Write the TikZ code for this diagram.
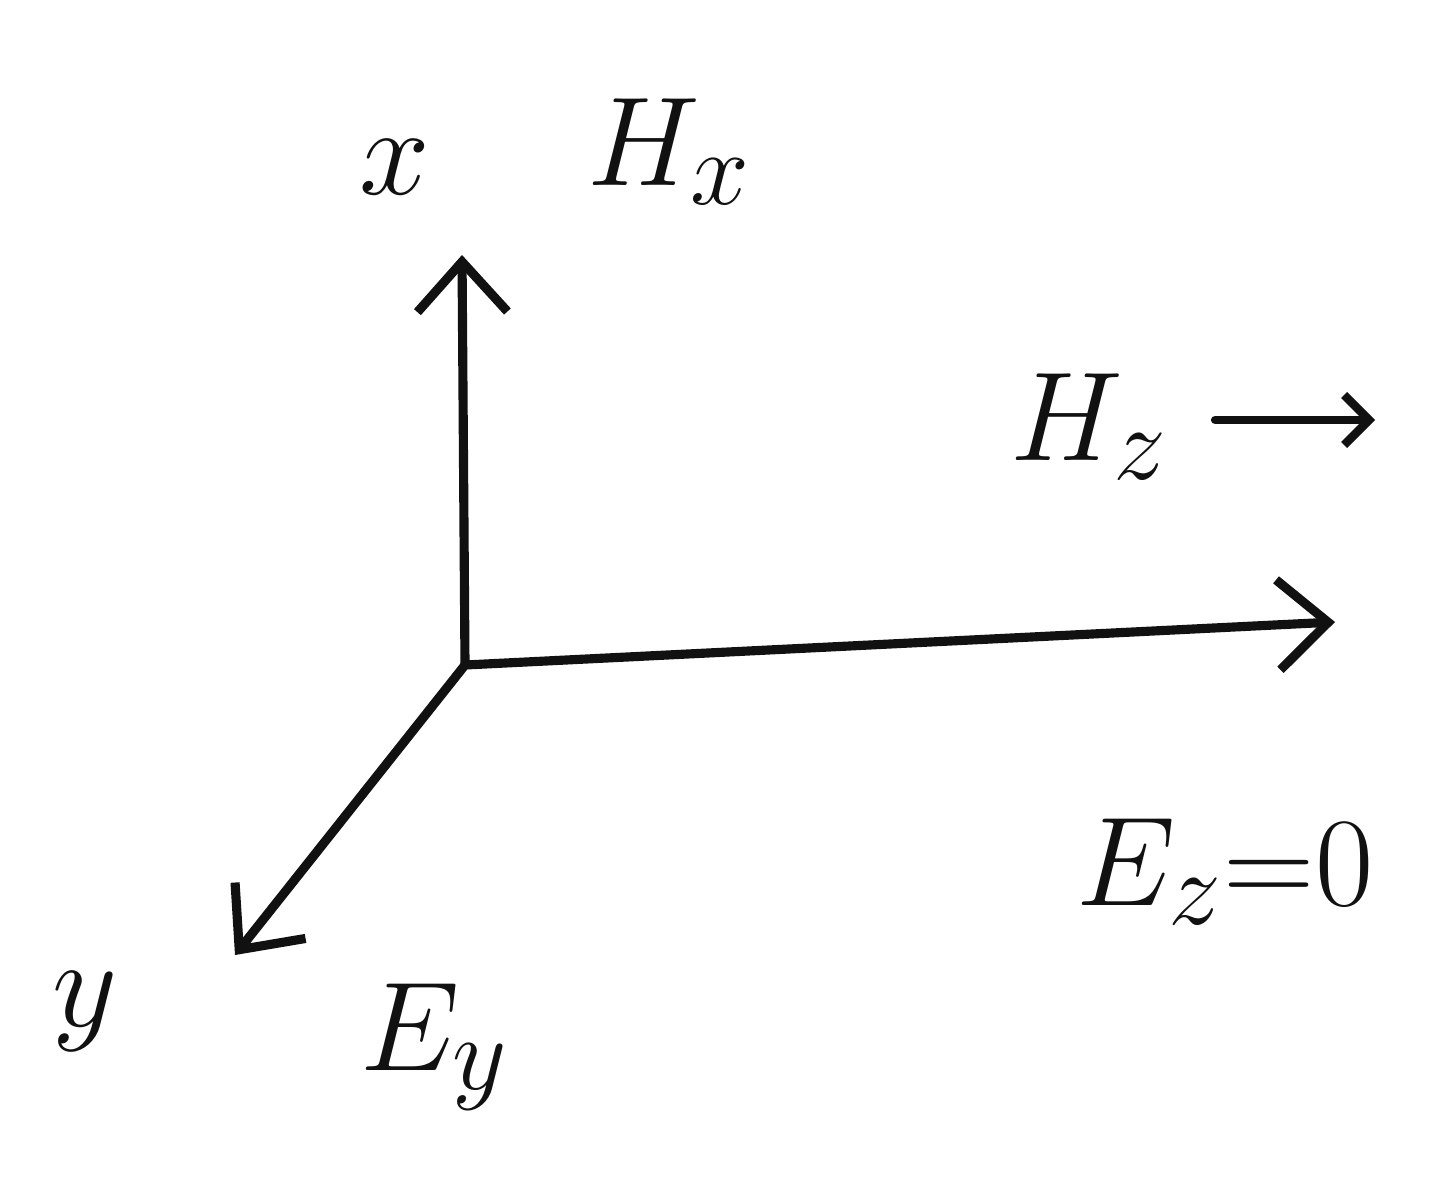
\documentclass[tikz,border=0pt]{standalone}
\usepackage{tikz}
\usetikzlibrary{arrows.meta,positioning,calc}
\definecolor{InkBlack}{HTML}{111111}

\begin{document}
\begin{tikzpicture}[font=\Huge,
  axis/.style={InkBlack,line width=2.6pt,line cap=round,-{Straight Barb[length=5mm,width=9mm,line width=2.6pt]}},
  lbl/.style={InkBlack,inner sep=0pt,scale=1.45,transform shape}]
  \useasboundingbox (0,0) rectangle (14.47,11.77);
  % origine et axes
  \coordinate (O) at (4.65,5.12);
  \coordinate (X) at (4.62,9.22);
  \coordinate (Z) at (13.35,5.55);
  \coordinate (Y) at (2.35,2.22);
  \draw[axis] (O) -- (X);
  \draw[axis] (O) -- (Z);
  \draw[axis] (O) -- (Y);
  % etiquettes
  \node[lbl] (xlab) at (3.95,10.1) {$x$};
  \node[lbl] (hx) at (6.7,10.25) {$H_x$};
  \node[lbl] (hz) at (10.9,7.5) {$H_z$};
  \coordinate (hzend) at (13.75,7.57);
  \draw[InkBlack,line width=2.4pt,line cap=round,-{Straight Barb[length=2.5mm,width=5mm,line width=2.4pt]}] ($(hz.east)+(0.45,0.07)$) -- (hzend);
  \node[lbl] (ez) at (12.25,3.05) {$E_z{=}0$};
  \node[lbl] (ylab) at (0.85,1.65) {$y$};
  \node[lbl] (ey) at (4.35,1.3) {$E_y$};
\end{tikzpicture}
\end{document}
